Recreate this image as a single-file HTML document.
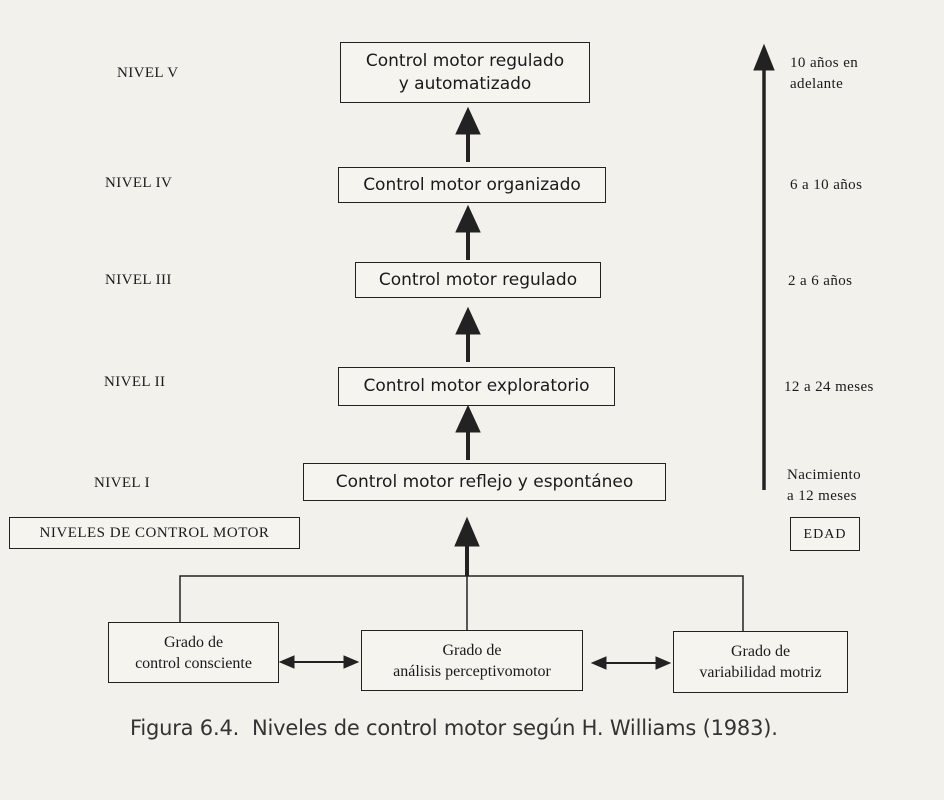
<!DOCTYPE html>
<html><head><meta charset="utf-8"><style>
body{margin:0;width:944px;height:800px;background:#f3f1ec;position:relative;overflow:hidden;color:#1a1a1a}
.b{position:absolute;border:1.5px solid #222;box-sizing:border-box;display:flex;align-items:center;justify-content:center;text-align:center;font-family:"DejaVu Sans","Liberation Sans",sans-serif;font-size:17px;line-height:23px;background:#f6f4ef}
.s{font-family:"Liberation Serif",serif;font-size:16px;line-height:21px}
.t{position:absolute;font-family:"Liberation Serif",serif;font-size:15px;line-height:21px;white-space:nowrap;letter-spacing:0.4px}
</style></head><body>
<svg width="944" height="800" style="position:absolute;left:0;top:0">
<g stroke="#222" fill="#222">
<line x1="468" y1="130" x2="468" y2="162" stroke-width="4"/><path d="M468,108 L456,134 L480,134 Z"/>
<line x1="468" y1="228" x2="468" y2="260" stroke-width="4"/><path d="M468,206 L456,232 L480,232 Z"/>
<line x1="468" y1="330" x2="468" y2="362" stroke-width="4"/><path d="M468,308 L456,334 L480,334 Z"/>
<line x1="468" y1="428" x2="468" y2="460" stroke-width="4"/><path d="M468,406 L456,432 L480,432 Z"/>
<line x1="467" y1="540" x2="467" y2="576" stroke-width="4"/><path d="M467,518 L455,546 L479,546 Z"/>
<line x1="764" y1="65" x2="764" y2="490" stroke-width="3.5"/><path d="M764,45 L754,70 L774,70 Z"/>
<g fill="none" stroke-width="1.5"><polyline points="180,622 180,576 743,576 743,631"/><line x1="467" y1="576" x2="467" y2="630"/></g>
<line x1="290" y1="662" x2="348" y2="662" stroke-width="2"/><path d="M280,662 L294,656 L294,668 Z M358,662 L344,656 L344,668 Z"/>
<line x1="602" y1="663" x2="660" y2="663" stroke-width="2"/><path d="M592,663 L606,657 L606,669 Z M670,663 L656,657 L656,669 Z"/>
</g></svg>
<div class="b" style="left:340px;top:42px;width:250px;height:61px">Control motor regulado<br>y automatizado</div>
<div class="b" style="left:338px;top:167px;width:268px;height:36px">Control motor organizado</div>
<div class="b" style="left:355px;top:262px;width:246px;height:36px">Control motor regulado</div>
<div class="b" style="left:338px;top:367px;width:277px;height:39px">Control motor exploratorio</div>
<div class="b" style="left:303px;top:463px;width:363px;height:38px">Control motor reflejo y espontáneo</div>
<div class="b s" style="left:9px;top:517px;width:291px;height:32px;font-size:15px;letter-spacing:0.5px">NIVELES DE CONTROL MOTOR</div>
<div class="b s" style="left:790px;top:517px;width:70px;height:34px;font-size:14px;letter-spacing:1px">EDAD</div>
<div class="b s" style="left:108px;top:622px;width:171px;height:61px">Grado de<br>control consciente</div>
<div class="b s" style="left:361px;top:630px;width:222px;height:61px">Grado de<br>análisis perceptivomotor</div>
<div class="b s" style="left:673px;top:631px;width:175px;height:62px">Grado de<br>variabilidad motriz</div>
<div class="t" style="left:117px;top:63px">NIVEL V</div>
<div class="t" style="left:105px;top:173px">NIVEL IV</div>
<div class="t" style="left:105px;top:270px">NIVEL III</div>
<div class="t" style="left:104px;top:372px">NIVEL II</div>
<div class="t" style="left:94px;top:473px">NIVEL I</div>
<div class="t" style="left:790px;top:53px">10 años en<br>adelante</div>
<div class="t" style="left:790px;top:175px">6 a 10 años</div>
<div class="t" style="left:788px;top:271px">2 a 6 años</div>
<div class="t" style="left:784px;top:377px">12 a 24 meses</div>
<div class="t" style="left:787px;top:465px">Nacimiento<br>a 12 meses</div>
<div style="position:absolute;left:130px;top:716px;font-family:'DejaVu Sans','Liberation Sans',sans-serif;font-size:21px;color:#333;white-space:nowrap;letter-spacing:-0.2px">Figura 6.4.&nbsp; Niveles de control motor según H. Williams (1983).</div>
</body></html>
